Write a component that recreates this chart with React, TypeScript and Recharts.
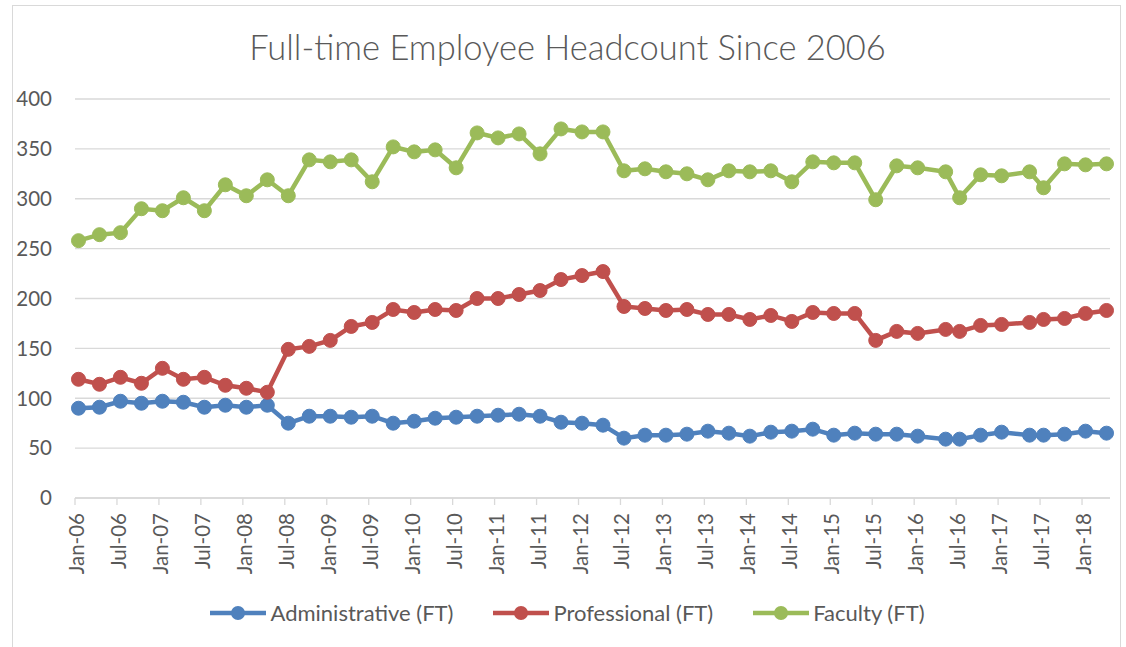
import { LineChart, Line, XAxis, YAxis, CartesianGrid, Legend } from 'recharts'

const dates = [
  'Jan-06', 'Apr-06', 'Jul-06', 'Oct-06', 'Jan-07', 'Apr-07', 'Jul-07', 'Oct-07',
  'Jan-08', 'Apr-08', 'Jul-08', 'Oct-08', 'Jan-09', 'Apr-09', 'Jul-09', 'Oct-09',
  'Jan-10', 'Apr-10', 'Jul-10', 'Oct-10', 'Jan-11', 'Apr-11', 'Jul-11', 'Oct-11',
  'Jan-12', 'Apr-12', 'Jul-12', 'Oct-12', 'Jan-13', 'Apr-13', 'Jul-13', 'Oct-13',
  'Jan-14', 'Apr-14', 'Jul-14', 'Oct-14', 'Jan-15', 'Apr-15', 'Jul-15', 'Oct-15',
  'Jan-16', 'May-16', 'Jul-16', 'Oct-16', 'Jan-17', 'May-17', 'Jul-17', 'Oct-17',
  'Jan-18', 'Apr-18',
]

const administrative = [
  90, 91, 97, 95, 97, 96, 91, 93, 91, 93,
  75, 82, 82, 81, 82, 75, 77, 80, 81, 82,
  83, 84, 82, 76, 75, 73, 60, 63, 63, 64,
  67, 65, 62, 66, 67, 69, 63, 65, 64, 64,
  62, 59, 59, 63, 66, 63, 63, 64, 67, 65,
]

const professional = [
  119, 114, 121, 115, 130, 119, 121, 113, 110, 106,
  149, 152, 158, 172, 176, 189, 186, 189, 188, 200,
  200, 204, 208, 219, 223, 227, 192, 190, 188, 189,
  184, 184, 179, 183, 177, 186, 185, 185, 158, 167,
  165, 169, 167, 173, 174, 176, 179, 180, 185, 188,
]

const faculty = [
  258, 264, 266, 290, 288, 301, 288, 314, 303, 319,
  303, 339, 337, 339, 317, 352, 347, 349, 331, 366,
  361, 365, 345, 370, 367, 367, 328, 330, 327, 325,
  319, 328, 327, 328, 317, 337, 336, 336, 299, 333,
  331, 327, 301, 324, 323, 327, 311, 335, 334, 335,
]

const tickLabels = [
  'Jan-06', 'Jul-06', 'Jan-07', 'Jul-07', 'Jan-08', 'Jul-08', 'Jan-09', 'Jul-09',
  'Jan-10', 'Jul-10', 'Jan-11', 'Jul-11', 'Jan-12', 'Jul-12', 'Jan-13', 'Jul-13',
  'Jan-14', 'Jul-14', 'Jan-15', 'Jul-15', 'Jan-16', 'Jul-16', 'Jan-17', 'Jul-17',
  'Jan-18',
]

const yTicks = [0, 50, 100, 150, 200, 250, 300, 350, 400]

const series = [
  { key: 'admin', name: 'Administrative (FT)', color: '#4F81BD', values: administrative },
  { key: 'prof', name: 'Professional (FT)', color: '#C0504D', values: professional },
  { key: 'fac', name: 'Faculty (FT)', color: '#9BBB59', values: faculty },
]

const MONTHS = ['Jan', 'Feb', 'Mar', 'Apr', 'May', 'Jun', 'Jul', 'Aug', 'Sep', 'Oct', 'Nov', 'Dec']

// months since Jan-06
function monthIndex(label: string) {
  const [m, y] = label.split('-')
  return (Number(y) - 6) * 12 + MONTHS.indexOf(m)
}

// points sit in the middle of their month, like Excel's date axis
const data = dates.map((d, i) => ({
  t: monthIndex(d) + 0.5,
  admin: administrative[i],
  prof: professional[i],
  fac: faculty[i],
}))

const tickValues = tickLabels.map(monthIndex)

const FONT = "Lato, 'Open Sans', sans-serif"
const TEXT = '#595959'
const GRID = '#D9D9D9'

function XTick(props: any) {
  const { x, y, payload } = props
  const label = tickLabels[tickValues.indexOf(payload.value)]
  return (
    <g transform={`translate(${x},${y})`}>
      <text
        transform="rotate(-90)"
        x={-6}
        dy={9}
        textAnchor="end"
        fill={TEXT}
        fontSize={20.5}
        fontFamily={FONT}
      >
        {label}
      </text>
    </g>
  )
}

// legend keeps the series order (recharts sorts its payload by name)
function LegendContent() {
  return (
    <div style={{ display: 'flex', justifyContent: 'center', gap: 40, fontFamily: FONT, fontSize: 22, color: TEXT }}>
      {series.map((s) => (
        <div key={s.key} style={{ display: 'flex', alignItems: 'center', gap: 4 }}>
          <svg width={56} height={16}>
            <line x1={0} y1={8} x2={56} y2={8} stroke={s.color} strokeWidth={4.5} strokeLinecap="round" />
            <circle cx={28} cy={8} r={7} fill={s.color} />
          </svg>
          <span>{s.name}</span>
        </div>
      ))}
    </div>
  )
}

export default function App() {
  return (
    <div style={{ position: 'absolute', left: 0, top: 0, width: 1126, height: 647, overflow: 'hidden', background: '#fff' }}>
      <div
        style={{
          position: 'absolute',
          left: 12,
          top: 5,
          width: 1109,
          height: 700,
          border: `1.5px solid ${GRID}`,
          boxSizing: 'border-box',
        }}
      />
      <div
        style={{
          position: 'absolute',
          left: 0,
          top: 30,
          width: 1135,
          textAlign: 'center',
          fontFamily: FONT,
          fontWeight: 300,
          fontSize: 34.5,
          lineHeight: '34px',
          color: TEXT,
        }}
      >
        Full-time Employee Headcount Since 2006
      </div>
      <LineChart width={1126} height={647} data={data} margin={{ top: 99, right: 16, bottom: 10, left: 0 }}>
        <CartesianGrid vertical={false} stroke={GRID} strokeWidth={1.3} />
        <XAxis
          dataKey="t"
          type="number"
          domain={[0, 148]}
          ticks={tickValues}
          interval={0}
          height={139}
          tick={<XTick />}
          tickSize={7}
          stroke={GRID}
          axisLine={{ stroke: GRID, strokeWidth: 1.3 }}
          tickLine={{ stroke: GRID, strokeWidth: 1.3 }}
        />
        <YAxis
          domain={[0, 400]}
          ticks={yTicks}
          width={75}
          axisLine={false}
          tickLine={false}
          tickSize={0}
          tickMargin={23}
          tick={{ fill: TEXT, fontSize: 20.5, fontFamily: FONT }}
        />
        <Legend
          layout="horizontal"
          verticalAlign="middle"
          align="center"
          wrapperStyle={{ top: 599, left: 0, width: 1135 }}
          content={<LegendContent />}
        />
        {series.map((s) => (
          <Line
            key={s.key}
            type="linear"
            dataKey={s.key}
            name={s.name}
            stroke={s.color}
            strokeWidth={4.5}
            dot={{ r: 7, fill: s.color, stroke: s.color, strokeWidth: 1 }}
            activeDot={false}
            isAnimationActive={false}
          />
        ))}
      </LineChart>
    </div>
  )
}
